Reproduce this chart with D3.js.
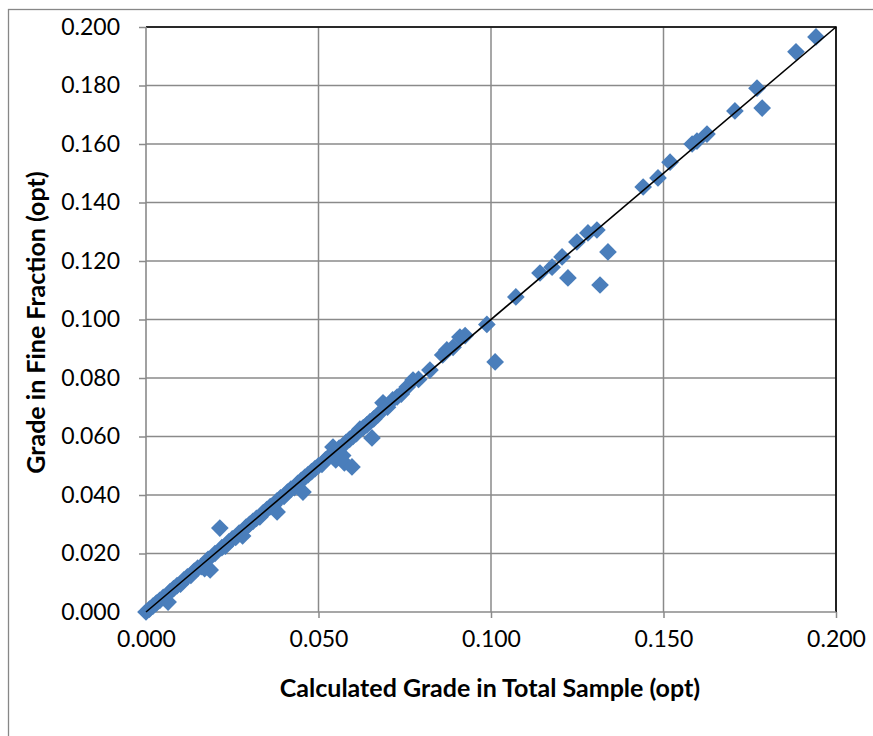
<!DOCTYPE html>
<html><head><meta charset="utf-8">
<script src="https://cdn.jsdelivr.net/npm/d3@7"></script>
<style>body{margin:0;background:#fff}svg{display:block}</style>
</head><body>
<script>
const xValues = [0.000,0.001,0.002,0.003,0.004,0.005,0.0064,0.007,0.008,0.009,0.010,0.011,0.012,0.013,0.014,0.015,0.016,0.017,0.018,0.0186,0.020,0.0214,0.022,0.023,0.024,0.025,0.026,0.027,0.028,0.029,0.030,0.031,0.032,0.033,0.034,0.035,0.036,0.037,0.038,0.038,0.039,0.040,0.041,0.042,0.043,0.044,0.045,0.0455,0.046,0.047,0.048,0.049,0.050,0.051,0.052,0.053,0.0542,0.055,0.056,0.057,0.0575,0.058,0.059,0.0597,0.060,0.061,0.062,0.063,0.064,0.0649,0.0655,0.066,0.0672,0.0687,0.070,0.0715,0.0728,0.074,0.0757,0.0774,0.079,0.0823,0.086,0.0872,0.089,0.091,0.0925,0.0988,0.1012,0.1072,0.1142,0.1177,0.1206,0.1223,0.1249,0.1281,0.1307,0.1316,0.1339,0.1441,0.1484,0.1519,0.1583,0.1597,0.1626,0.1707,0.1771,0.1786,0.1884,0.1942];
const yValues = [0.000,0.001,0.002,0.003,0.004,0.005,0.0034,0.007,0.008,0.009,0.0095,0.011,0.012,0.0125,0.014,0.015,0.0155,0.0148,0.018,0.0144,0.020,0.0287,0.022,0.0225,0.024,0.025,0.0255,0.027,0.026,0.029,0.030,0.031,0.032,0.0325,0.034,0.035,0.036,0.0365,0.0342,0.038,0.039,0.0395,0.041,0.042,0.0425,0.044,0.045,0.041,0.046,0.047,0.048,0.049,0.050,0.0505,0.052,0.053,0.0564,0.052,0.056,0.0535,0.051,0.058,0.059,0.0496,0.060,0.061,0.0625,0.063,0.064,0.065,0.0595,0.066,0.0674,0.0715,0.070,0.0725,0.0735,0.0745,0.0769,0.0793,0.0795,0.0827,0.0879,0.0896,0.0905,0.094,0.0945,0.0983,0.0855,0.1077,0.1159,0.1179,0.1214,0.1142,0.1265,0.1296,0.1306,0.1118,0.1231,0.1453,0.1484,0.1538,0.1600,0.1610,0.1634,0.1713,0.1791,0.1723,0.1915,0.1966];
const xTicks = [0.000,0.050,0.100,0.150,0.200];
const yTicks = [0.000,0.020,0.040,0.060,0.080,0.100,0.120,0.140,0.160,0.180,0.200];
const xTitle = "Calculated Grade in Total Sample (opt)";
const yTitle = "Grade in Fine Fraction (opt)";

const W = 873, H = 736;
const L = 146, R = 836, T = 27, B = 612;
const svg = d3.select("body").append("svg").attr("width", W).attr("height", H);
const font = "Lato, 'Open Sans', sans-serif";

svg.append("rect").attr("x", 8.5).attr("y", 9.5).attr("width", W + 20).attr("height", H + 20)
  .attr("fill", "none").attr("stroke", "#878787").attr("stroke-width", 1.3);

const x = d3.scaleLinear().domain([0, 0.2]).range([L, R]);
const y = d3.scaleLinear().domain([0, 0.2]).range([B, T]);

// gridlines
svg.append("g").selectAll("line").data(yTicks.slice(1)).join("line")
  .attr("x1", L).attr("x2", R).attr("y1", d => y(d)).attr("y2", d => y(d))
  .attr("stroke", "#8a8a8a").attr("stroke-width", 1.5);
svg.append("g").selectAll("line").data(xTicks.slice(1)).join("line")
  .attr("y1", T).attr("y2", B).attr("x1", d => x(d)).attr("x2", d => x(d))
  .attr("stroke", "#8a8a8a").attr("stroke-width", 1.5);

// plot border top/right black
svg.append("path").attr("d", `M${L},${T}H${R}V${B}`).attr("fill", "none")
  .attr("stroke", "#000").attr("stroke-width", 1.6);

// axes
const xAxis = svg.append("g").attr("transform", `translate(0,${B})`)
  .call(d3.axisBottom(x).tickValues(xTicks).tickFormat(d3.format(".3f")).tickSize(6).tickPadding(13));
const yAxis = svg.append("g").attr("transform", `translate(${L},0)`)
  .call(d3.axisLeft(y).tickValues(yTicks).tickFormat(d3.format(".3f")).tickSize(7).tickPadding(19));
[xAxis, yAxis].forEach(a => {
  a.select(".domain").attr("stroke", "#8a8a8a").attr("stroke-width", 1.6);
  a.selectAll(".tick line").attr("stroke", "#8a8a8a").attr("stroke-width", 1.5);
  a.selectAll("text").attr("font-family", font).attr("font-size", 23).attr("fill", "#000");
});
xAxis.select(".domain").attr("d", `M${L},0H${R}`);
yAxis.select(".domain").attr("d", `M0,${B}V${T}`);

// points
const pts = xValues.map((v, i) => [v, yValues[i]]);
svg.append("g").selectAll("path").data(pts).join("path")
  .attr("d", d3.symbol(d3.symbolDiamond2, 200)())
  .attr("transform", d => `translate(${x(d[0])},${y(d[1])})`)
  .attr("fill", "#4A7EBB");

// 1:1 line
svg.append("line").attr("x1", x(0)).attr("y1", y(0)).attr("x2", x(0.2)).attr("y2", y(0.2))
  .attr("stroke", "#000").attr("stroke-width", 1.6);

svg.append("text").attr("x", 490).attr("y", 697).attr("text-anchor", "middle")
  .attr("font-family", font).attr("font-weight", "bold").attr("font-size", 25).text(xTitle);
svg.append("text").attr("transform", `translate(45,${(T + B) / 2 + 3}) rotate(-90)`).attr("text-anchor", "middle")
  .attr("font-family", font).attr("font-weight", "bold").attr("font-size", 25).text(yTitle);
</script>
</body></html>
